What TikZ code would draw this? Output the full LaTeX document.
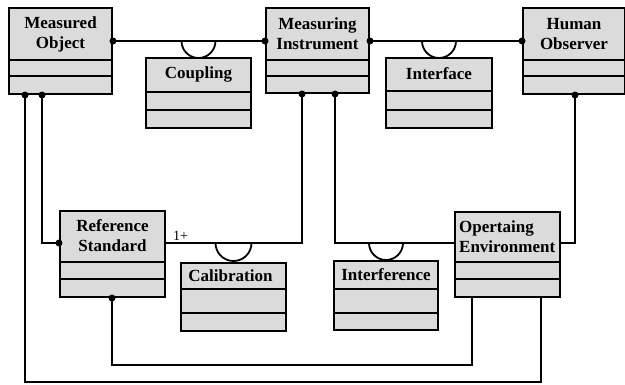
\documentclass[tikz,border=0pt]{standalone}
\usepackage{fontspec}
\setmainfont{Liberation Serif}
\usetikzlibrary{calc}
\newcommand\myclassbox[7]{%
  \node[cls, minimum width=#4pt, minimum height=#5pt] (#1) at (#2,#3) {};
  \draw[sep] ($(#1.north west)+(0,#6)$) -- ($(#1.north east)+(0,#6)$);
  \draw[sep] ($(#1.north west)+(0,#7)$) -- ($(#1.north east)+(0,#7)$);
}
\begin{document}
\begin{tikzpicture}[x=1pt,y=-1pt,
  cls/.style={draw, line width=2pt, fill=black!14, rectangle, inner sep=0pt, anchor=north west},
  lbl/.style={font=\fontsize{17}{20}\selectfont\bfseries, align=center, inner sep=0pt},
  conn/.style={line width=1.8pt},
  sep/.style={line width=1.4pt},
  dotc/.style={fill=black}]
\useasboundingbox (0,0) rectangle (625,384);

% classes
\myclassbox{mo}{8}{7}{103}{86}{53}{69}
\myclassbox{mi}{265}{7}{103}{85}{53}{69}
\myclassbox{ho}{522}{7}{102}{86}{53}{69}
\myclassbox{cp}{145}{57}{105}{70}{35}{53}
\myclassbox{itf}{385}{57}{106}{70}{34}{53}
\myclassbox{rs}{59}{210}{105}{86}{52}{69}
\myclassbox{cal}{180}{262}{105}{68}{27}{51}
\myclassbox{ifr}{333}{260}{104}{69}{29}{53}
\myclassbox{oe}{454}{211}{105}{85}{51}{68}

% labels
\node[lbl] (mot) at ($(mo.north)+(0,27)$) {Measured\\Object};
\node[lbl] (mit) at ($(mi.north)+(0,27)$) {Measuring\\Instrument};
\node[lbl] (hot) at ($(ho.north)+(0,27)$) {Human\\Observer};
\node[lbl] (cpt) at ($(cp.north)+(0,17.5)$) {Coupling};
\node[lbl] (itft) at ($(itf.north)+(0,17)$) {Interface};
\node[lbl] (rst) at ($(rs.north)+(0,26)$) {Reference\\Standard};
\node[lbl] (calt) at ($(cal.north)+(-3,14)$) {Calibration};
\node[lbl] (ifrt) at ($(ifr.north)+(0,15)$) {Interference};
\node[lbl, align=left, anchor=west] (oet) at ($(oe.north west)+(5,26)$) {Opertaing\\Environment};

% ports
\coordinate (moR) at ($(mo.north east)+(0,34)$);
\coordinate (miL) at ($(mi.north west)+(0,34)$);
\coordinate (miR) at ($(mi.north east)+(0,34)$);
\coordinate (hoL) at ($(ho.north west)+(0,34)$);
\coordinate (moB1) at ($(mo.south west)+(17,0)$);
\coordinate (moB2) at ($(mo.south west)+(34,0)$);
\coordinate (rsL) at ($(rs.north west)+(0,33)$);
\coordinate (rsR) at ($(rs.north east)+(0,33)$);
\coordinate (rsB) at ($(rs.south west)+(53,0)$);
\coordinate (miB1) at ($(mi.south west)+(37,0)$);
\coordinate (miB2) at ($(mi.south west)+(70,0)$);
\coordinate (hoB) at ($(ho.south west)+(53,0)$);
\coordinate (oeL) at ($(oe.north west)+(0,32)$);
\coordinate (oeR) at ($(oe.north east)+(0,32)$);
\coordinate (oeB1) at ($(oe.south west)+(18,0)$);
\coordinate (oeB2) at ($(oe.south west)+(87,0)$);

% connectors
\draw[conn] (moR) -- (miL);
\draw[conn] (miR) -- (hoL);
\draw[conn] (moB1) -- ++(0,287) -| (oeB2);
\draw[conn] (moB2) |- (rsL);
\draw[conn] (rsR) -| (miB1);
\draw[conn] (miB2) |- (oeL);
\draw[conn] (rsB) -- ++(0,67) -| (oeB1);
\draw[conn] (hoB) |- (oeR);

% sockets
\draw[conn] ($(cp.north)+(-17,-16)$) arc[start angle=180, end angle=360, radius=17pt];
\draw[conn] ($(itf.north)+(-17,-16)$) arc[start angle=180, end angle=360, radius=17pt];
\draw[conn] ($(cal.north)+(-18,-19)$) arc[start angle=180, end angle=360, radius=18pt];
\draw[conn] ($(ifr.north)+(-17,-17)$) arc[start angle=180, end angle=360, radius=17pt];

% aggregation dots
\foreach \p in {moR,miL,miR,hoL,moB1,moB2,rsL,rsB,miB1,miB2,hoB}
  \fill[dotc] (\p) circle (3.5pt);

% multiplicity
\node[font=\fontsize{14}{16}\selectfont, anchor=base west, inner sep=0pt] (one) at ($(rsR)+(7,-3)$) {1+};
\end{tikzpicture}
\end{document}
